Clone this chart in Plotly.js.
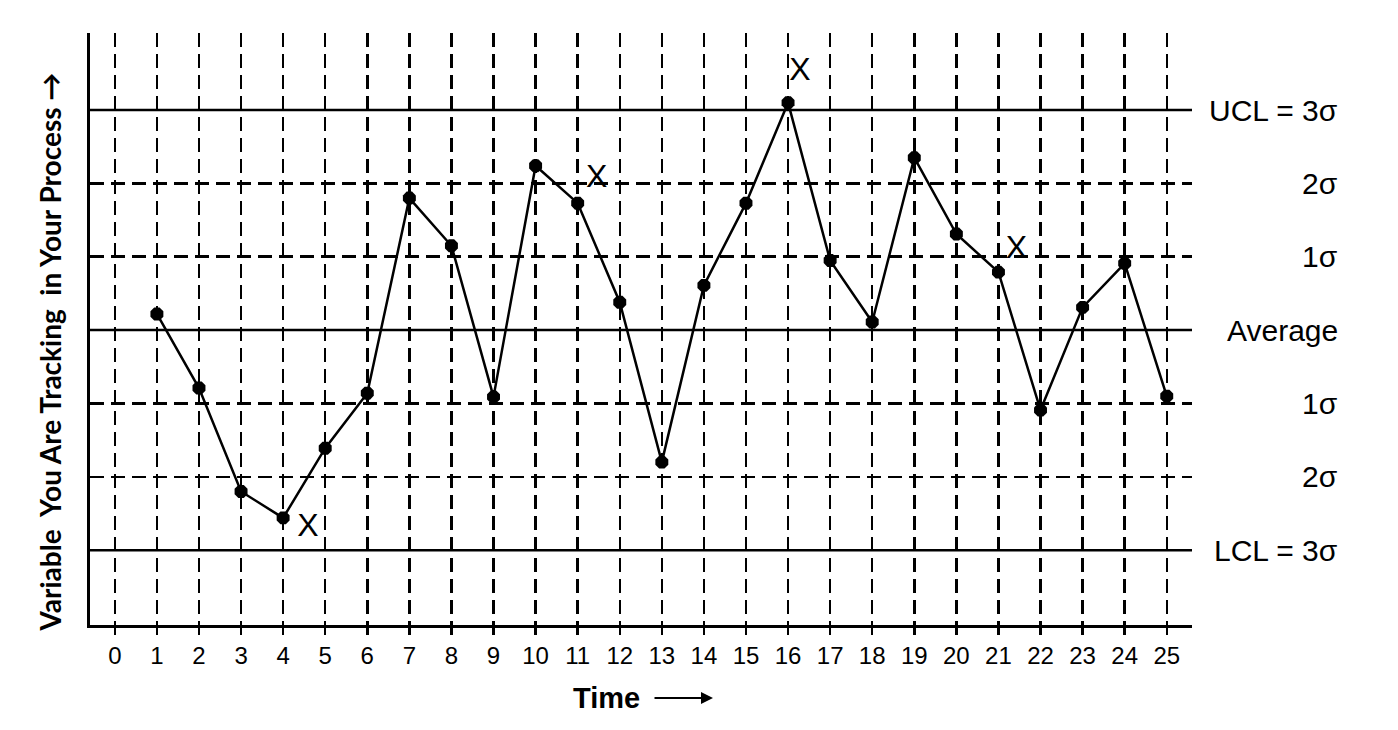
<!DOCTYPE html>
<html>
<head>
<meta charset="utf-8">
<script src="https://cdn.plot.ly/plotly-3.0.1.min.js"></script>
<style>html,body{margin:0;padding:0;background:#fff;}#chart{width:1398px;height:730px;}</style>
</head>
<body>
<div id="chart"></div>
<script>
const times = [1,2,3,4,5,6,7,8,9,10,11,12,13,14,15,16,17,18,19,20,21,22,23,24,25];
const values = [0.22,-0.79,-2.20,-2.56,-1.61,-0.86,1.80,1.15,-0.91,2.24,1.73,0.38,-1.80,0.61,1.73,3.10,0.95,0.11,2.35,1.31,0.79,-1.09,0.31,0.91,-0.90];
const flagX = [4.59, 11.45, 16.28, 21.43];
const flagY = [-2.70, 2.06, 3.52, 1.09];
const flagText = ['X','X','X','X'];
const xTicks = [0,1,2,3,4,5,6,7,8,9,10,11,12,13,14,15,16,17,18,19,20,21,22,23,24,25];
const controlLevels = [3, 0, -3];
const zoneLevels = [-2, -1, 1, 2];
const levelValues = [3, 2, 1, 0, -1, -2, -3];
const levelLabels = ['UCL = 3σ', '2σ', '1σ', 'Average', '1σ', '2σ', 'LCL = 3σ'];
const yTitle = 'Variable\u00a0\u00a0You Are Tracking\u00a0\u00a0in Your Process \u2192';
const xTitle = 'Time';

const traces = [
  {
    x: times, y: values, mode: 'lines+markers', type: 'scatter',
    line: {color: '#000', width: 2.5},
    marker: {color: '#000', size: 14, symbol: 'octagon'},
    hoverinfo: 'skip', showlegend: false
  },
  {
    x: flagX, y: flagY, mode: 'text', type: 'scatter', text: flagText,
    textposition: 'middle center',
    textfont: {family: 'Liberation Sans, Arial, sans-serif', size: 32, color: '#000'},
    hoverinfo: 'skip', showlegend: false
  }
];

const shapes = controlLevels.map(v => ({
  type: 'line', xref: 'paper', x0: 0, x1: 1, yref: 'y', y0: v, y1: v,
  line: {color: '#000', width: 2.5}, layer: 'below'
}));

const annotations = levelValues.map((v, i) => ({
  xref: 'paper', x: 1, xshift: 148, xanchor: 'right',
  yref: 'y', y: v, yanchor: 'middle',
  text: levelLabels[i], showarrow: false,
  font: {family: 'Liberation Sans, Arial, sans-serif', size: 30, color: '#000'}
}));

annotations.push({
  xref: 'paper', x: -0.0363, yref: 'paper', y: 0.462,
  xanchor: 'center', yanchor: 'middle', textangle: -90,
  text: '<b>' + yTitle + '</b>', showarrow: false,
  font: {family: 'Lato, Open Sans, sans-serif', size: 28, color: '#000'}
});
annotations.push({
  xref: 'paper', x: (642 - 90) / 1102, yref: 'paper', y: -(698 - 625) / 592,
  xanchor: 'right', yanchor: 'middle',
  text: '<b>' + xTitle + '</b>', showarrow: false,
  font: {family: 'Liberation Sans, Arial, sans-serif', size: 29, color: '#000'}
});
annotations.push({
  xref: 'paper', x: (713 - 90) / 1102, yref: 'paper', y: -(698 - 625) / 592,
  ax: -60, ay: 0, axref: 'pixel', ayref: 'pixel',
  text: '', showarrow: true, arrowhead: 2, arrowsize: 1.2, arrowwidth: 2, arrowcolor: '#000'
});

const layout = {
  width: 1398, height: 730,
  paper_bgcolor: '#fff', plot_bgcolor: '#fff',
  margin: {l: 90, r: 206, t: 33, b: 105},
  showlegend: false,
  xaxis: {
    range: [-0.59, 25.6], tickvals: xTicks, ticktext: xTicks.map(String),
    showgrid: true, gridcolor: '#000', gridwidth: 2.5, griddash: '14px,7px',
    showline: true, linecolor: '#000', linewidth: 3,
    ticks: 'outside', ticklen: 7, tickwidth: 2.5, tickcolor: '#000',
    tickfont: {family: 'Liberation Sans, Arial, sans-serif', size: 24, color: '#000'},
    zeroline: false, fixedrange: true
  },
  yaxis: {
    range: [-4.02, 4.05], tickvals: zoneLevels, showticklabels: false, ticks: '',
    showgrid: true, gridcolor: '#000', gridwidth: 2.5, griddash: '14px,7px',
    showline: true, linecolor: '#000', linewidth: 3,
    zeroline: false, fixedrange: true
  },
  shapes: shapes,
  annotations: annotations
};

Plotly.newPlot('chart', traces, layout, {displayModeBar: false, staticPlot: true});
</script>
</body>
</html>
